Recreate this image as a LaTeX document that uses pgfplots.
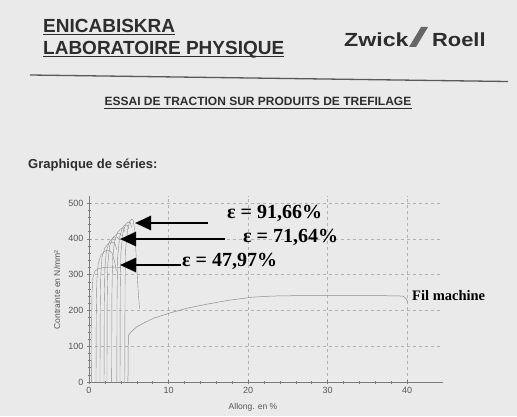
\documentclass[border=0pt]{standalone}
\usepackage{pgfplots}
\pgfplotsset{compat=1.18}
\usepackage{fontspec}
\setmainfont{Liberation Sans}
\newfontfamily\serifb{Liberation Serif}
\usepackage{graphicx}
\usetikzlibrary{arrows.meta}
\definecolor{paper}{RGB}{234,234,234}
\definecolor{ink}{RGB}{45,45,45}
\definecolor{curvec}{RGB}{140,140,140}
\definecolor{gridc}{RGB}{178,178,178}
\definecolor{axisc}{RGB}{125,125,125}
\definecolor{tickc}{RGB}{85,85,85}
\begin{document}
\begin{tikzpicture}[x=1pt,y=1pt]
\useasboundingbox (0,0) rectangle (517,416);
\fill[paper] (0,0) rectangle (517,416);
% header
\node[anchor=base west, inner sep=0, text=ink, font=\bfseries\fontsize{19}{22}\selectfont] (h1) at (43,383.5) {ENICABISKRA};
\draw[ink, line width=1.1pt] ([yshift=-2.3pt]h1.base west) -- ([yshift=-2.3pt]h1.base east);
\node[anchor=base west, inner sep=0, text=ink, font=\bfseries\fontsize{19}{22}\selectfont] (h2) at (43,361.7) {LABORATOIRE PHYSIQUE};
\draw[ink, line width=1.1pt] ([yshift=-2.6pt]h2.base west) -- ([yshift=-2.6pt]h2.base east);
\node[anchor=base west, inner sep=0, text=ink, font=\bfseries\fontsize{19}{22}\selectfont] at (344,369) {\scalebox{1.22}[1]{Zwick}};
\fill[black!60] (409,369) -- (416,369) -- (428,389) -- (421,389) -- cycle;
\node[anchor=base west, inner sep=0, text=ink, font=\bfseries\fontsize{19}{22}\selectfont] at (432,369) {\scalebox{1.15}[1]{Roell}};
\draw[black!65, line width=1.3pt] (30,341) -- (508,334.5);
\node[anchor=base, inner sep=0, text=ink, font=\bfseries\fontsize{12}{14}\selectfont] (h3) at (258,310) {ESSAI DE TRACTION SUR PRODUITS DE TREFILAGE};
\draw[ink, line width=0.9pt] ([yshift=-2.2pt]h3.base west) -- ([yshift=-2.2pt]h3.base east);
\node[anchor=base west, inner sep=0, text=ink, font=\bfseries\fontsize{13}{15}\selectfont] at (28,248) {Graphique de séries:};
% chart
\begin{axis}[
 at={(89pt,34pt)}, anchor=south west, scale only axis,
 width=353.8pt, height=186.2pt,
 xmin=0, xmax=44.5, ymin=0, ymax=520,
 axis x line*=bottom, axis y line*=left,
 axis line style={axisc, line width=0.5pt},
 xtick={0,10,20,30,40}, ytick={0,100,200,300,400,500},
 minor x tick num=4, minor y tick num=4,
 tick align=center, major tick length=4pt, minor tick length=3pt,
 tick style={axisc, line width=0.4pt},
 grid=major, major grid style={gridc, dashed, line width=0.4pt},
 ticklabel style={font=\fontsize{9}{10}\selectfont, text=tickc},
 /pgf/number format/assume math mode=true,
 clip=false,
]
\addplot[curvec, line width=0.4pt] coordinates {(0.30,0) (0.32,150) (0.38,250) (0.50,292) (0.75,310) (1.2,317) (2.0,320) (3.0,321) (4.0,320)};
\addplot[curvec, line width=0.4pt] coordinates {(0.88,0) (0.91,180) (0.98,280) (1.15,330) (1.5,355) (2.0,366) (2.5,368) (2.9,360) (3.2,338) (3.45,310)};
\addplot[curvec, line width=0.4pt] coordinates {(1.38,0) (1.41,200) (1.48,300) (1.65,350) (2.0,375) (2.5,388) (3.0,390) (3.3,384) (3.5,370)};
\addplot[curvec, line width=0.4pt] coordinates {(1.89,0) (1.92,220) (2.0,320) (2.2,368) (2.6,393) (3.1,404) (3.5,405) (3.8,398)};
\addplot[curvec, line width=0.4pt] coordinates {(2.26,0) (2.29,230) (2.37,330) (2.6,380) (3.0,403) (3.5,414) (3.9,415) (4.1,408)};
\addplot[curvec, line width=0.4pt] coordinates {(2.85,0) (2.88,240) (2.96,340) (3.2,392) (3.6,418) (4.0,428) (4.3,429) (4.5,420)};
\addplot[curvec, line width=0.4pt] coordinates {(3.50,0) (3.53,250) (3.61,350) (3.85,405) (4.2,430) (4.5,438) (4.8,438) (5.0,428)};
\addplot[curvec, line width=0.4pt] coordinates {(3.90,0) (3.93,260) (4.01,360) (4.25,415) (4.6,440) (4.9,446) (5.2,445) (5.35,432)};
\addplot[curvec, line width=0.4pt] coordinates {(4.50,0) (4.53,270) (4.61,370) (4.85,425) (5.1,448) (5.35,455) (5.55,452) (5.75,425) (5.95,345) (6.15,265) (6.35,205)};
\addplot[curvec, line width=0.5pt] coordinates {(4.90,0) (4.93,100) (4.97,131) (5.3,140) (6.0,154) (7.0,166) (8.1,178) (10.2,193) (12.5,207) (15.0,218) (17.5,228) (20.6,237) (23.0,240) (25.7,241) (30.0,242) (35.0,242) (39.5,240) (39.9,232) (40.1,222)};
\end{axis}
\node[rotate=90, text=tickc, font=\fontsize{8.5}{10}\selectfont] at (57,126) {Contrainte en N/mm²};
\node[text=tickc, font=\fontsize{8.5}{10}\selectfont] at (253,9) {Allong. en \%};
% annotations
\draw[black, line width=2.6pt, -{Triangle[length=16pt,width=14pt]}] (208,193) -- (135,193);
\draw[black, line width=2.6pt, -{Triangle[length=16pt,width=14pt]}] (225,177) -- (120,177);
\draw[black, line width=2.6pt, -{Triangle[length=16pt,width=14pt]}] (181,151) -- (120,151);
\node[anchor=base west, inner sep=0, font=\serifb\bfseries\fontsize{20}{22}\selectfont] at (227,198) {ε = 91,66\%};
\node[anchor=base west, inner sep=0, font=\serifb\bfseries\fontsize{20}{22}\selectfont] at (243,173.5) {ε = 71,64\%};
\node[anchor=base west, inner sep=0, font=\serifb\bfseries\fontsize{20}{22}\selectfont] at (182,150) {ε = 47,97\%};
\node[anchor=base west, inner sep=0, font=\serifb\bfseries\fontsize{14.5}{16}\selectfont] at (412,116) {Fil machine};
\end{tikzpicture}
\end{document}
